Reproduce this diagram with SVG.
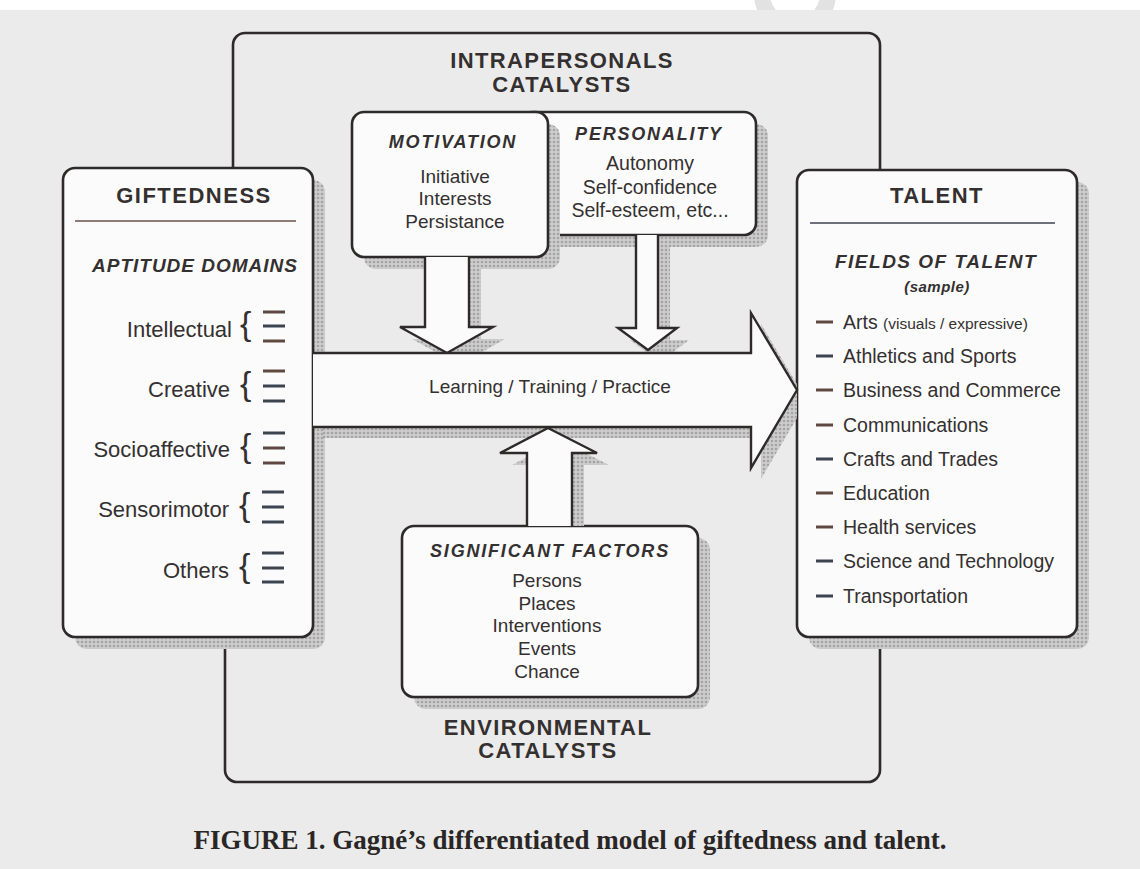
<svg xmlns="http://www.w3.org/2000/svg" width="1140" height="869" viewBox="0 0 1140 869">
<defs>
<pattern id="ht" width="4" height="4" patternUnits="userSpaceOnUse"><rect width="4" height="4" fill="#cdcdcd"/><circle cx="2" cy="2" r="1.3" fill="#a4a4a4"/></pattern>
<clipPath id="clipL"><rect x="0" y="0" width="797" height="869"/></clipPath>
<clipPath id="clipT"><rect x="0" y="0" width="1140" height="526"/></clipPath>
<clipPath id="clipBand"><rect x="0" y="0" width="1140" height="10"/></clipPath>
<style>
.box{fill:#fbfbfb;stroke:#2e2a2a;stroke-width:2.6}
.outer{fill:none;stroke:#2e2a2a;stroke-width:2.6}
.sh{fill:url(#ht)}
.arr{fill:#fbfbfb;stroke:none}
.edge{fill:none;stroke:#2e2a2a;stroke-width:2.4;stroke-linejoin:miter}
text{font-family:"Liberation Sans",Arial,sans-serif;fill:#343030}
.big{font-size:22px;font-weight:bold;letter-spacing:1.4px}
.sub{font-size:18px;font-weight:bold;font-style:italic;letter-spacing:1.8px}
.it{font-size:19px}
.dom{font-size:22px}
.fld{font-size:19.5px}
.c{text-anchor:middle}
.e{text-anchor:end}
.br{font-size:34px;font-weight:normal}
.dash{stroke-width:3}
.d1{stroke:#5e4840}
.d2{stroke:#3c4450}
</style>
</defs>
<rect width="1140" height="869" fill="#ebebeb"/>
<rect width="1140" height="10" fill="#ffffff"/>
<g clip-path="url(#clipBand)"><circle cx="795" cy="-6" r="33" fill="none" stroke="#e2e2e2" stroke-width="16"/></g>

<g id="intrapersonal-catalysts">
<rect class="outer" x="233" y="33" width="647" height="360" rx="12"/>
<text class="big c" x="562" y="68">INTRAPERSONALS</text>
<text class="big c" x="562" y="92">CATALYSTS</text>
</g>

<g id="environmental-catalysts">
<rect class="outer" x="225" y="388" width="655" height="394" rx="12"/>
<text class="big c" x="548" y="735">ENVIRONMENTAL</text>
<text class="big c" x="548" y="758">CATALYSTS</text>
</g>

<g id="personality">
<rect class="sh" x="532" y="124" width="236" height="123" rx="12"/>
<rect class="box" x="520" y="112" width="236" height="123" rx="12"/>
<text class="sub c" x="649" y="140">PERSONALITY</text>
<text class="fld c" x="650" y="170">Autonomy</text>
<text class="fld c" x="650" y="194">Self-confidence</text>
<text class="fld c" x="650" y="217">Self-esteem, etc...</text>
</g>

<g id="motivation">
<rect class="sh" x="364" y="124" width="196" height="145" rx="12"/>
<rect class="box" x="352" y="112" width="196" height="145" rx="12"/>
<text class="sub c" x="453" y="148">MOTIVATION</text>
<text class="it c" x="455" y="183">Initiative</text>
<text class="it c" x="455" y="205">Interests</text>
<text class="it c" x="455" y="228">Persistance</text>
</g>

<g id="giftedness">
<rect class="sh" x="75" y="180" width="250" height="469" rx="12"/>
<rect class="box" x="63" y="168" width="250" height="469" rx="12"/>
<text class="big c" x="194" y="203" style="letter-spacing:1.5px">GIFTEDNESS</text>
<line x1="75" y1="221" x2="296" y2="221" stroke="#6b5048" stroke-width="1.6"/>
<text class="sub c" x="195" y="272" style="font-size:19px;letter-spacing:1px">APTITUDE  DOMAINS</text>
<g>
<text class="dom e" x="232" y="337">Intellectual</text>
<text class="br" x="240" y="335">{</text>
<line class="dash d1" x1="263" y1="312" x2="285" y2="312"/><line class="dash d2" x1="263" y1="326" x2="285" y2="326"/><line class="dash d1" x1="263" y1="341" x2="285" y2="341"/>
</g>
<g>
<text class="dom e" x="230" y="397">Creative</text>
<text class="br" x="240" y="395">{</text>
<line class="dash d1" x1="263" y1="371" x2="285" y2="371"/><line class="dash d2" x1="263" y1="386" x2="285" y2="386"/><line class="dash d2" x1="263" y1="401" x2="285" y2="401"/>
</g>
<g>
<text class="dom e" x="230" y="457">Socioaffective</text>
<text class="br" x="240" y="457">{</text>
<line class="dash d2" x1="263" y1="433" x2="285" y2="433"/><line class="dash d1" x1="263" y1="448" x2="285" y2="448"/><line class="dash d1" x1="263" y1="463" x2="285" y2="463"/>
</g>
<g>
<text class="dom e" x="229" y="517">Sensorimotor</text>
<text class="br" x="239" y="516">{</text>
<line class="dash d2" x1="262" y1="492" x2="284" y2="492"/><line class="dash d2" x1="262" y1="507" x2="284" y2="507"/><line class="dash d2" x1="262" y1="522" x2="284" y2="522"/>
</g>
<g>
<text class="dom e" x="229" y="578">Others</text>
<text class="br" x="239" y="577">{</text>
<line class="dash d2" x1="262" y1="553" x2="284" y2="553"/><line class="dash d2" x1="262" y1="568" x2="284" y2="568"/><line class="dash d2" x1="262" y1="582" x2="284" y2="582"/>
</g>
</g>

<g id="talent">
<rect class="sh" x="809" y="182" width="280" height="467" rx="12"/>
<rect class="box" x="797" y="170" width="280" height="467" rx="12"/>
<text class="big c" x="937" y="203" style="letter-spacing:1.5px">TALENT</text>
<line x1="810" y1="223" x2="1055" y2="223" stroke="#3c4450" stroke-width="1.6"/>
<text class="sub c" x="936" y="268" style="font-size:19px;letter-spacing:1.5px">FIELDS OF TALENT</text>
<text class="sub c" x="937" y="292" style="font-size:15px;letter-spacing:0.5px">(sample)</text>
<line class="dash d1" x1="816" y1="322" x2="833" y2="322"/>
<text class="fld" x="843" y="329">Arts <tspan style="font-size:15.5px">(visuals / expressive)</tspan></text>
<line class="dash d2" x1="816" y1="356" x2="833" y2="356"/>
<text class="fld" x="843" y="363">Athletics and Sports</text>
<line class="dash d1" x1="816" y1="390" x2="833" y2="390"/>
<text class="fld" x="843" y="397">Business and Commerce</text>
<line class="dash d1" x1="816" y1="425" x2="833" y2="425"/>
<text class="fld" x="843" y="432">Communications</text>
<line class="dash d2" x1="816" y1="459" x2="833" y2="459"/>
<text class="fld" x="843" y="466">Crafts and Trades</text>
<line class="dash d1" x1="816" y1="493" x2="833" y2="493"/>
<text class="fld" x="843" y="500">Education</text>
<line class="dash d1" x1="816" y1="527" x2="833" y2="527"/>
<text class="fld" x="843" y="534">Health services</text>
<line class="dash d2" x1="816" y1="561" x2="833" y2="561"/>
<text class="fld" x="843" y="568">Science and Technology</text>
<line class="dash d2" x1="816" y1="596" x2="833" y2="596"/>
<text class="fld" x="843" y="603">Transportation</text>
</g>

<g id="significant-factors">
<rect class="sh" x="414" y="538" width="296" height="171" rx="12"/>
<rect class="box" x="402" y="526" width="296" height="171" rx="12"/>
<text class="sub c" x="550" y="557">SIGNIFICANT  FACTORS</text>
<text class="it c" x="547" y="587">Persons</text>
<text class="it c" x="547" y="610">Places</text>
<text class="it c" x="547" y="632">Interventions</text>
<text class="it c" x="547" y="655">Events</text>
<text class="it c" x="547" y="678">Chance</text>
</g>

<g id="connectors">
<g id="arrow-motivation">
<polygon class="sh" transform="translate(12,12)" points="425,257 469,257 469,327 493,327 447,353 400,327 425,327"/>
<polygon class="arr" points="425,257 469,257 469,327 493,327 447,353 400,327 425,327"/>
<polyline class="edge" points="425,257 425,327 400,327 447,353 493,327 469,327 469,257"/>
</g>
<g id="arrow-personality">
<polygon class="sh" transform="translate(12,12)" points="636,235 658,235 658,328 677,328 648,350 618,328 636,328"/>
<polygon class="arr" points="636,235 658,235 658,328 677,328 648,350 618,328 636,328"/>
<polyline class="edge" points="636,235 636,328 618,328 648,350 677,328 658,328 658,235"/>
</g>
<g id="arrow-development">
<g clip-path="url(#clipL)"><polygon class="sh" transform="translate(10,11)" points="313,353 751,353 751,313 797,390 751,468 751,427 313,427"/></g>
<polygon class="arr" points="313,353 751,353 751,313 797,390 751,468 751,427 313,427"/>
<polyline class="edge" points="313,353 751,353 751,313 797,390 751,468 751,427 313,427"/>
<text class="it c" x="550" y="393">Learning / Training / Practice</text>
</g>
<g id="arrow-environment">
<g clip-path="url(#clipT)"><polygon class="sh" transform="translate(12,12)" points="527,526 527,453 500,453 548,428 597,453 572,453 572,526"/></g>
<polygon class="arr" points="527,526 527,453 500,453 548,428 597,453 572,453 572,526"/>
<polyline class="edge" points="527,526 527,453 500,453 548,428 597,453 572,453 572,526"/>
</g>
</g>

<text x="570" y="849" style="font-family:'Liberation Serif','Times New Roman',serif;font-size:27px;font-weight:bold;fill:#2a2626" text-anchor="middle">FIGURE 1. Gagné’s differentiated model of giftedness and talent.</text>
</svg>
